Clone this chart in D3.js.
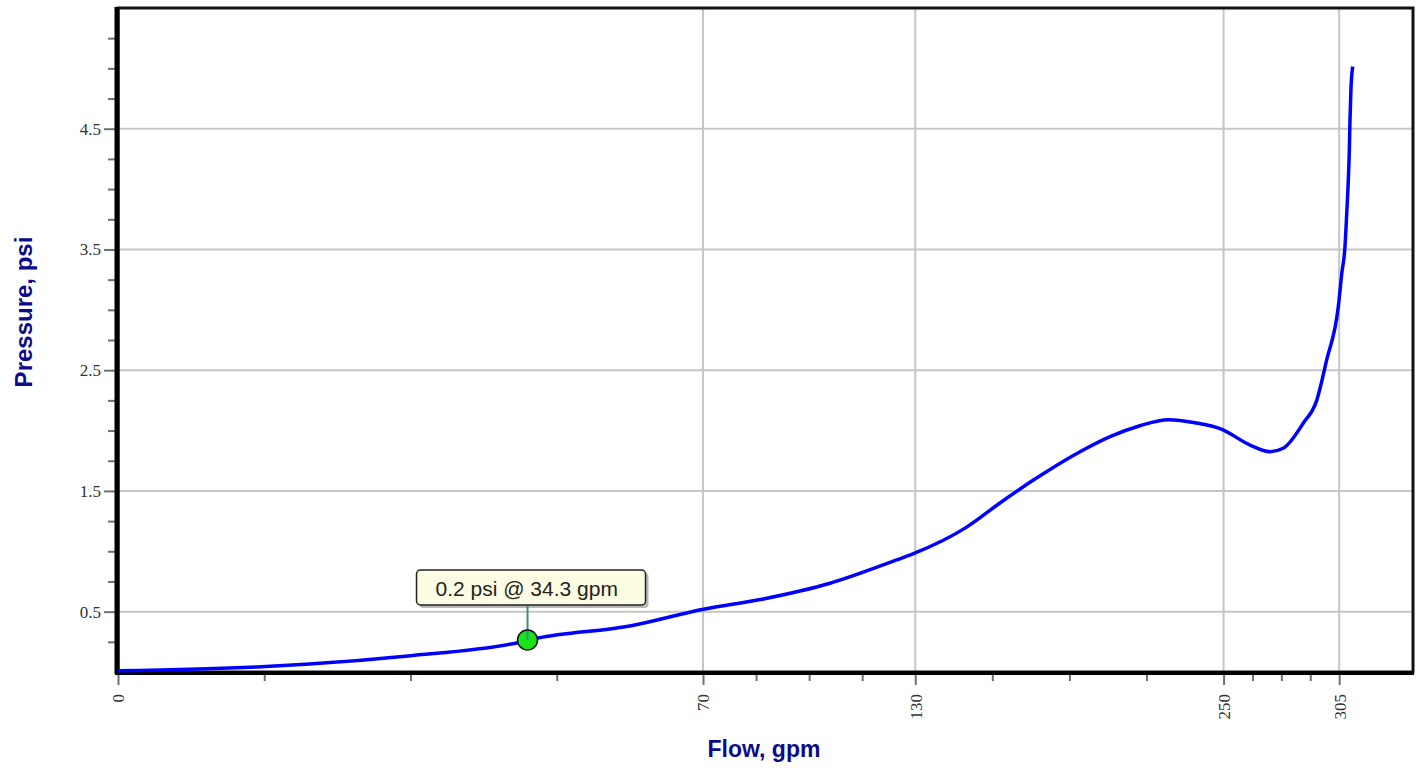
<!DOCTYPE html>
<html>
<head>
<meta charset="utf-8">
<script src="https://cdn.jsdelivr.net/npm/d3@7"></script>
<style>
  body { margin: 0; background: #fff; }
  svg { display: block; }
</style>
</head>
<body>
<div id="chart"></div>
<script>
// flow (gpm) / pressure (psi)
var flow = [0, 4.2, 7.2, 17.2, 32.7, 35.9, 53.6, 70.1, 85.2, 103.7, 124.0, 129.4, 147.3, 159.1,
    171.4, 189.3, 201.3, 213.6, 225.6, 237.2, 249.2, 262.1, 271.4, 277.7, 287.3, 293.9, 298.8,
    304.6, 306.3, 307.9, 308.8, 309.6, 310.1, 310.4, 310.9, 311.8];
var pressure = [0.01, 0.044, 0.064, 0.133, 0.243, 0.279, 0.381, 0.52, 0.605, 0.735, 0.928, 0.98, 1.20, 1.40,
    1.59, 1.825, 1.95, 2.04, 2.09, 2.065, 2.01, 1.88, 1.825, 1.853, 2.06, 2.25, 2.585,
    3.03, 3.30, 3.52, 3.80, 4.08, 4.32, 4.55, 4.82, 5.015];
var xTicks = [0, 70, 130, 250, 305];
var yTicks = [0.5, 1.5, 2.5, 3.5, 4.5];
var marker = {flow: 34.3, pressure: 0.265, label: '0.2 psi @ 34.3 gpm'};

var width = 1421, height = 770;
var margin = {top: 8, left: 118, right: 8, bottom: 98};

var svg = d3.select('#chart').append('svg')
    .attr('width', width)
    .attr('height', height);

// x axis is square-root spaced
var x = d3.scaleSqrt().domain([0, 343]).range([margin.left, width - margin.right]);
var y = d3.scaleLinear().domain([0, 5.5]).range([height - margin.bottom, margin.top]);

// minor ticks: 3 per major interval, evenly spaced on screen
var xMinor = [];
for (var i = 0; i < xTicks.length - 1; i++) {
    var a = x(xTicks[i]), b = x(xTicks[i + 1]);
    for (var k = 1; k < 4; k++) xMinor.push(x.invert(a + (b - a) * k / 4));
}
var yMinor = d3.range(1, 22).map(function (d) { return d * 0.25; })
    .filter(function (d) { return yTicks.indexOf(d) < 0; });

// grid
var grid = svg.append('g').attr('stroke', '#c6c6c6').attr('stroke-width', 2);
grid.selectAll('.gx').data(xTicks.slice(1)).enter().append('line')
    .attr('x1', function (d) { return x(d); })
    .attr('x2', function (d) { return x(d); })
    .attr('y1', y.range()[1]).attr('y2', y.range()[0]);
grid.selectAll('.gy').data(yTicks).enter().append('line')
    .attr('y1', function (d) { return y(d); })
    .attr('y2', function (d) { return y(d); })
    .attr('x1', x.range()[0]).attr('x2', x.range()[1]);

function styleAxis(g) {
    g.select('.domain').remove();
    g.selectAll('.tick line').attr('stroke', '#707070').attr('stroke-width', 2);
    g.selectAll('.tick text')
        .attr('fill', '#333')
        .style('font-family', '"Liberation Serif", "DejaVu Serif", serif')
        .style('font-size', '17px');
}

var y0 = y(0);
svg.append('g').attr('transform', 'translate(0,' + y0 + ')')
    .call(d3.axisBottom(x).tickValues(xMinor).tickSize(9).tickFormat(''))
    .call(styleAxis);
var xAxis = svg.append('g').attr('transform', 'translate(0,' + y0 + ')')
    .call(d3.axisBottom(x).tickValues(xTicks).tickSize(13).tickFormat(d3.format('d')))
    .call(styleAxis);
xAxis.selectAll('.tick text')
    .attr('transform', 'rotate(-90)')
    .attr('text-anchor', 'end')
    .attr('x', -22)
    .attr('y', 0)
    .attr('dy', '0.35em');

svg.append('g').attr('transform', 'translate(' + margin.left + ',0)')
    .call(d3.axisLeft(y).tickValues(yMinor).tickSize(10).tickFormat(''))
    .call(styleAxis);
svg.append('g').attr('transform', 'translate(' + margin.left + ',0)')
    .call(d3.axisLeft(y).tickValues(yTicks).tickSize(14).tickPadding(3).tickFormat(d3.format('.1f')))
    .call(styleAxis);

// frame
svg.append('rect')
    .attr('x', x.range()[0]).attr('y', y.range()[1])
    .attr('width', x.range()[1] - x.range()[0])
    .attr('height', y.range()[0] - y.range()[1])
    .attr('fill', 'none').attr('stroke', '#111').attr('stroke-width', 3);
svg.append('line')
    .attr('x1', x.range()[0] - 1).attr('x2', x.range()[0] - 1)
    .attr('y1', y.range()[1] - 1).attr('y2', y.range()[0] + 2)
    .attr('stroke', '#000').attr('stroke-width', 5);
svg.append('line')
    .attr('x1', x.range()[0] - 3).attr('x2', x.range()[1] + 1)
    .attr('y1', y.range()[0] + 1).attr('y2', y.range()[0] + 1)
    .attr('stroke', '#000').attr('stroke-width', 4);

// curve
var pts = flow.map(function (f, i) { return [f, pressure[i]]; });
var line = d3.line()
    .x(function (d) { return x(d[0]); })
    .y(function (d) { return y(d[1]); })
    .curve(d3.curveMonotoneX);
svg.append('path')
    .datum(pts)
    .attr('d', line)
    .attr('fill', 'none')
    .attr('stroke', '#0000ff')
    .attr('stroke-width', 3.5)
    .attr('stroke-linejoin', 'round');

// marker + tooltip
var mx = x(marker.flow), my = y(marker.pressure);
var boxW = 229, boxH = 35, boxX = mx - 111, boxY = my - 70;
svg.append('rect')
    .attr('x', boxX + 3).attr('y', boxY + 3)
    .attr('width', boxW).attr('height', boxH).attr('rx', 4)
    .attr('fill', '#b8b8b8');
svg.append('rect')
    .attr('x', boxX).attr('y', boxY)
    .attr('width', boxW).attr('height', boxH).attr('rx', 4)
    .attr('fill', '#fdfde3').attr('stroke', '#222').attr('stroke-width', 1.5);
svg.append('text')
    .attr('x', boxX + 19).attr('y', boxY + 26)
    .attr('fill', '#222')
    .style('font-family', '"Liberation Sans", Arial, sans-serif')
    .style('font-size', '21px')
    .text(marker.label);
svg.append('line')
    .attr('x1', mx).attr('x2', mx)
    .attr('y1', boxY + boxH + 1).attr('y2', my)
    .attr('stroke', '#3c8c8c').attr('stroke-width', 2);
svg.append('circle')
    .attr('cx', mx).attr('cy', my).attr('r', 10)
    .attr('fill', '#16e416').attr('stroke', '#111').attr('stroke-width', 1.5);
svg.append('line')
    .attr('x1', mx).attr('x2', mx)
    .attr('y1', my - 9).attr('y2', my)
    .attr('stroke', '#3c8c8c').attr('stroke-width', 2);

// axis titles
svg.append('text')
    .attr('x', 764).attr('y', 757)
    .attr('text-anchor', 'middle')
    .attr('fill', '#0b0b8c')
    .style('font-family', '"Liberation Sans", Arial, sans-serif')
    .style('font-weight', 'bold')
    .style('font-size', '23px')
    .text('Flow, gpm');
svg.append('text')
    .attr('transform', 'translate(32,312) rotate(-90)')
    .attr('text-anchor', 'middle')
    .attr('fill', '#0b0b8c')
    .style('font-family', '"Liberation Sans", Arial, sans-serif')
    .style('font-weight', 'bold')
    .style('font-size', '24px')
    .text('Pressure, psi');
</script>
</body>
</html>
